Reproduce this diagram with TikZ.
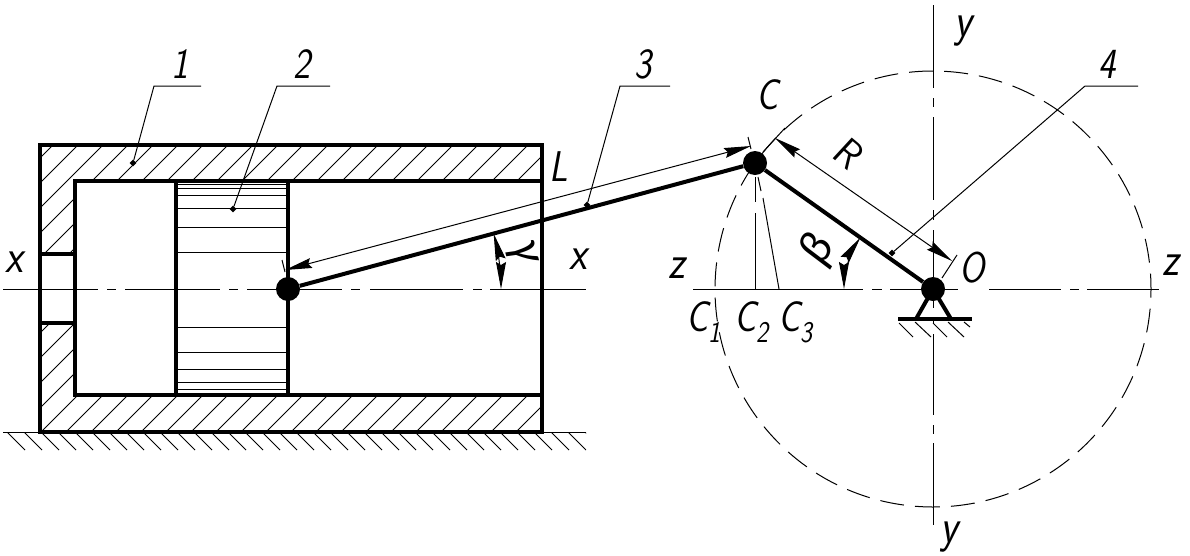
\documentclass[tikz,border=0pt]{standalone}
\usepackage{fontspec}
\usetikzlibrary{arrows.meta,shapes.geometric}
\newfontfamily\grk{Carlito}
\tikzset{
  thinl/.style={line width=1pt},
  heavy/.style={line width=4pt},
  pin/.style={circle,fill=black,inner sep=0pt,minimum size=24pt},
  ldot/.style={diamond,fill=black,inner sep=0pt,minimum size=7pt},
  lab/.style={inner sep=0pt,xscale=0.85,font=\fontsize{43}{43}\selectfont\sffamily\itshape},
  low/.style={inner sep=0pt,xscale=0.85,font=\fontsize{48}{48}\selectfont\sffamily\itshape},
  grklab/.style={inner sep=0pt,font=\fontsize{48}{48}\selectfont\grk\itshape},
  dim/.style={thinl,{Stealth[length=27pt,width=10pt,inset=3pt]}-{Stealth[length=27pt,width=10pt,inset=3pt]}},
  half/.style={thinl,-{Stealth[length=27pt,width=10pt,inset=3pt]}},
}
\newcommand{\subdig}[1]{\raisebox{-11pt}{\fontsize{30}{30}\selectfont #1}}
\begin{document}
\begin{tikzpicture}[x=1pt,y=1pt,yscale=-1]
\useasboundingbox (0,0) rectangle (1190,555);
% named points
\coordinate (A) at (288,289);
\coordinate (C) at (755,163);
\coordinate (O) at (933,289);
% hatching of the cylinder wall
\begin{scope}
\clip (40,145) rectangle (542,181) (40,181) rectangle (75,254) (40,323) rectangle (75,395) (40,395) rectangle (542,432);
\foreach \s in {198,223,...,973} \draw[thinl] (\s-145,145) -- (\s-432,432);
\end{scope}
% piston lines
\foreach \y in {184,188,195,208,227,252,327,352,369,382,389} \draw[thinl] (176,\y) -- (288,\y);
% ground
\draw[thinl] (3,432) -- (586,432);
\begin{scope}
\clip (0,432) rectangle (586,450);
\foreach \s in {7,24,...,590} \draw[thinl] (\s,432) -- (\s+18,450);
\end{scope}
% horizontal axes
\foreach \a/\b in {3/98,107/116,125/220,229/238,247/342,351/360,370/463,473/482,490/586,693/863,872/882,890/958,989/1061,1070/1079,1087/1159}
  \draw[thinl] (\a,289) -- (\b,289);
% vertical axis
\foreach \a/\b in {5/88,98/107,117/200,210/220,230/308,317/324,334/415,425/434,443/525}
  \draw[thinl] (933,\a) -- (933,\b);
% circle
\draw[thinl,dash pattern=on 24pt off 11.1pt] ([shift={(94.5:218)}]O) arc (94.5:-265.5:218);
% projections of C
\draw[thinl] (755,177) -- (755,202) (755,213) -- (755,289);
\draw[thinl] (758,177) -- (761,191) (763,198) -- (779,289);
% cylinder
\draw[heavy,line join=miter] (542,145) -- (40,145) -- (40,432) -- (542,432) -- cycle;
\draw[heavy] (542,181) -- (75,181) -- (75,395) -- (542,395);
\draw[heavy] (40,254) -- (75,254) (40,323) -- (75,323);
\draw[heavy] (176,181) -- (176,395) (288,181) -- (288,395);
% support
\draw[heavy] (O) -- (916,319) (O) -- (951,319);
\draw[heavy] (898,319) -- (972,319);
\draw[thinl] (899,323) -- (913,337) (915,322) -- (931,337) (933,323) -- (947,337) (948,322) -- (964,337) (964,322) -- (970,327);
% rod and crank
\node[pin] (pA) at (A) {};
\node[pin] (pC) at (C) {};
\node[pin] (pO) at (O) {};
\draw[heavy] (pA) -- (pC);
\draw[heavy] (pC) -- (pO);
% dimension L
\draw[thinl] (285,272) -- (282,260) (751,149) -- (748,137);
\coordinate (La) at (285,270);
\coordinate (Lb) at (751,146);
\draw[dim] (La) -- (Lb);
% dimension R
\draw[thinl] (763,152) -- (785,128) (942,278) -- (957,255);
\coordinate (Ra) at (775,138);
\coordinate (Rb) at (952,261);
\draw[dim] (Ra) -- (Rb);
% angles
\draw[half] ([shift={(197.6:89)}]O) arc (197.6:180:89);
\draw[half] ([shift={(197.6:89)}]O) arc (197.6:215.3:89);
\draw[half] ([shift={(-7.5:213)}]A) arc (-7.5:0:213);
\draw[half] ([shift={(-7.5:213)}]A) arc (-7.5:-15.1:213);
% leaders
\node[ldot] (d1) at (133,163) {};
\node[ldot] (d2) at (233,209) {};
\node[ldot] (d3) at (587,205) {};
\node[ldot] (d4) at (892,253) {};
\draw[thinl] (d1) -- (154,86) -- (201,86);
\draw[thinl] (d2) -- (277,86) -- (330,86);
\draw[thinl] (d3) -- (620,86) -- (670,86);
\draw[thinl] (d4) -- (1085,86) -- (1138,86);
% labels
\node[lab] (n1) at (180,64) {1};
\node[lab] (n2) at (302,64) {2};
\node[lab] (n3) at (643,64) {3};
\node[lab] (n4) at (1107,64) {4};
\node[lab] (lC) at (767,95) {C};
\node[lab] (lL) at (559,167) {L};
\node[lab] (lO) at (972,268) {O};
\node[lab,rotate=-35.3] (lR) at (847,152) {R};
\node[low] (lx1) at (14,262) {x};
\node[low] (lx2) at (578,259) {x};
\node[low] (lz1) at (677,268) {z};
\node[low] (lz2) at (1171,265) {z};
\node[low] (ly1) at (963,31) {y};
\node[low] (ly2) at (949,537) {y};
\node[lab] (lC1) at (703,322) {C\subdig{1}};
\node[lab] (lC2) at (751,322) {C\subdig{2}};
\node[lab] (lC3) at (795,322) {C\subdig{3}};
\node[grklab,rotate=60] (lb) at (818,250) {β};
\node[grklab,rotate=-75] (lg) at (522,253) {γ};
\end{tikzpicture}
\end{document}
